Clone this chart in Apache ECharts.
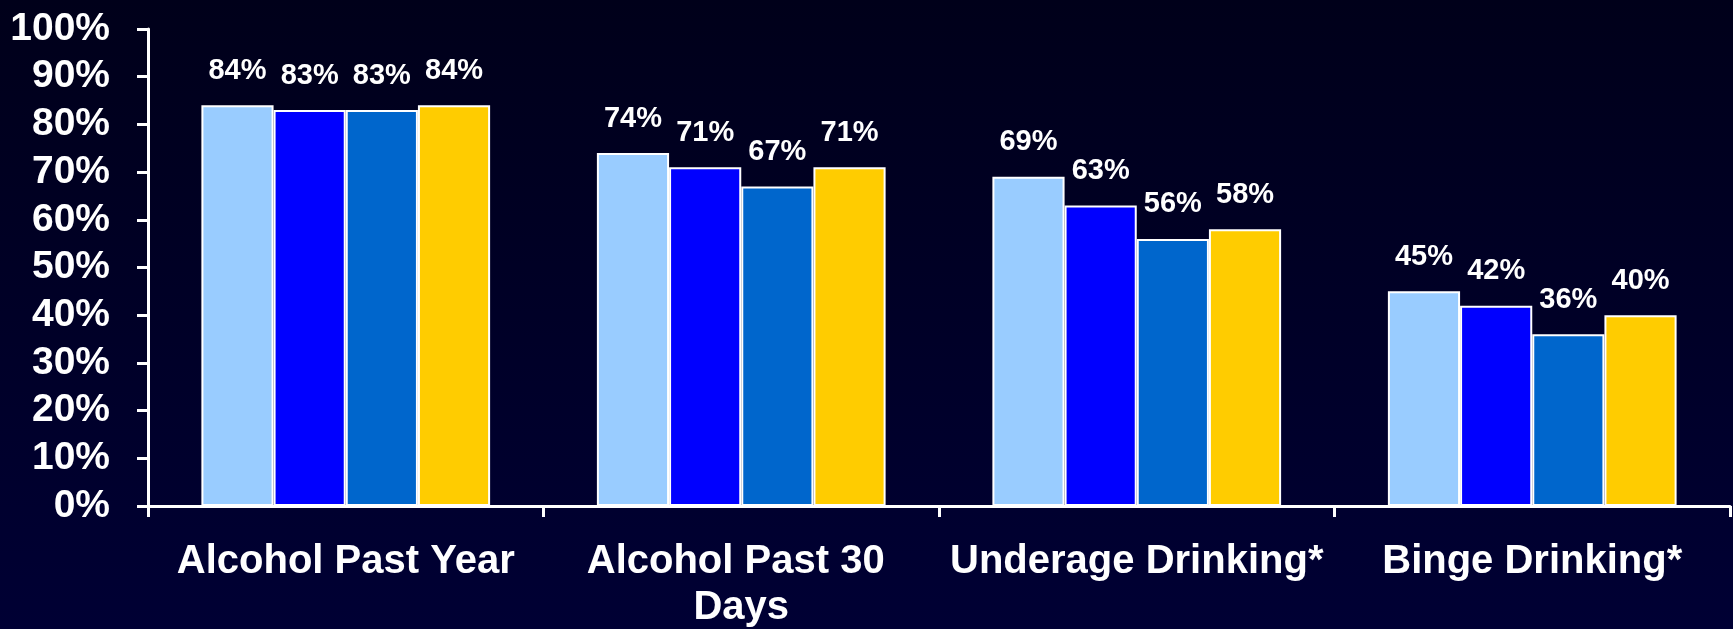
<!DOCTYPE html>
<html>
<head>
<meta charset="utf-8">
<title>Alcohol use</title>
<script src="https://cdn.jsdelivr.net/npm/echarts@6/dist/echarts.min.js"></script>
<style>
  html, body { margin: 0; padding: 0; }
  body { background: linear-gradient(to bottom, #00001a, #000034); }
  #chart { width: 1733px; height: 629px; }
</style>
</head>
<body>
<div id="chart"></div>
<script>
// Categories along the x axis
const categories = ['Alcohol Past Year', 'Alcohol Past 30 Days', 'Underage Drinking*', 'Binge Drinking*'];

// Percent values, one array per bar series (left to right in each group)
const seriesA = [84, 74, 69, 45];
const seriesB = [83, 71, 63, 42];
const seriesC = [83, 67, 56, 36];
const seriesD = [84, 71, 58, 40];

// Y axis range and tick step (percent)
const yMin = 0;
const yMax = 100;
const yStep = 10;

const seriesValues = [seriesA, seriesB, seriesC, seriesD];
const seriesColors = ['#99ccff', '#0000ff', '#0066cc', '#ffcc00'];

const fontFamily = '"Liberation Sans", Arial, sans-serif';

const chart = echarts.init(document.getElementById('chart'), null, { renderer: 'canvas' });

chart.setOption({
  backgroundColor: 'transparent',
  animation: false,
  grid: { left: 148, right: 3, top: 29, bottom: 123, containLabel: false, outerBoundsMode: 'none' },
  xAxis: {
    type: 'category',
    data: categories,
    boundaryGap: true,
    axisLine: { show: true, lineStyle: { color: '#ffffff', width: 3 } },
    axisTick: { show: true, inside: false, length: 11, lineStyle: { color: '#ffffff', width: 3 } },
    axisLabel: {
      color: '#ffffff',
      fontFamily: fontFamily,
      fontWeight: 'bold',
      fontSize: 40,
      lineHeight: 46,
      margin: 33,
      width: 390,
      overflow: 'break',
      interval: 0
    },
    splitLine: { show: false }
  },
  yAxis: {
    type: 'value',
    min: yMin,
    max: yMax,
    interval: yStep,
    axisLine: { show: true, lineStyle: { color: '#ffffff', width: 3 } },
    axisTick: { show: true, inside: false, length: 11, lineStyle: { color: '#ffffff', width: 3 } },
    axisLabel: {
      color: '#ffffff',
      fontFamily: fontFamily,
      fontWeight: 'bold',
      fontSize: 39,
      margin: 38,
      formatter: v => v + '%'
    },
    splitLine: { show: false }
  },
  series: seriesValues.map((vals, i) => ({
    type: 'bar',
    data: vals,
    barGap: '0%',
    barCategoryGap: '27%',
    itemStyle: { color: seriesColors[i], borderColor: '#ffffff', borderWidth: 2 },
    label: {
      show: true,
      position: 'top',
      distance: 20,
      color: '#ffffff',
      fontFamily: fontFamily,
      fontWeight: 'bold',
      fontSize: 29,
      formatter: p => p.value + '%'
    }
  }))
});
</script>
</body>
</html>
